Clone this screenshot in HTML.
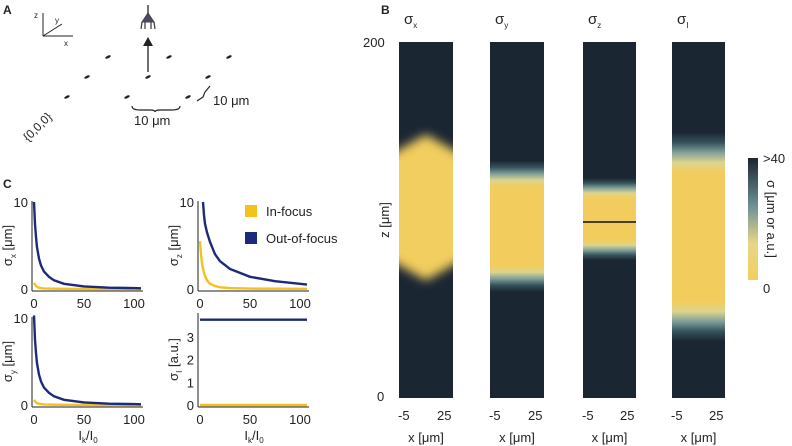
<!DOCTYPE html>
<html><head><meta charset="utf-8"><style>
body{margin:0;background:#fff;}
svg{display:block;font-family:"Liberation Sans",sans-serif;}
text{fill:#222;}
</style></head><body>
<svg id="fig" width="792" height="446" viewBox="0 0 792 446">
<defs id="defs">
  <filter id="blur1" x="-50%" y="-50%" width="200%" height="200%"><feGaussianBlur stdDeviation="5"/></filter>
  <linearGradient id="cbar" x1="0" y1="1" x2="0" y2="0">
    <stop offset="0" stop-color="#f4ce5b"/><stop offset="0.3" stop-color="#e8d688"/>
    <stop offset="0.6" stop-color="#6f9296"/><stop offset="1" stop-color="#1b2633"/>
  </linearGradient>
  <clipPath id="c1"><rect x="399" y="42" width="54" height="356"/></clipPath>
  <clipPath id="c2"><rect x="490" y="42" width="54" height="356"/></clipPath>
  <clipPath id="c3"><rect x="583" y="42" width="53" height="356"/></clipPath>
  <clipPath id="c4"><rect x="672" y="42" width="53" height="356"/></clipPath>
</defs>

<!-- Panel A -->
<g>
  <text x="3" y="14" font-size="12" font-weight="bold">A</text>
  <g stroke="#222" stroke-width="1" fill="none">
    <line x1="43" y1="36" x2="43" y2="13"/><line x1="43" y1="36" x2="73" y2="36"/><line x1="43" y1="36" x2="62" y2="24"/>
  </g>
  <text x="34" y="18" font-size="8">z</text><text x="55" y="23" font-size="8">y</text><text x="64" y="46" font-size="8">x</text>
  <g fill="#444" stroke="#444">
    <line x1="148" y1="5" x2="148" y2="14" stroke-width="1.5"/>
    <path d="M142,22 L148,13 L154,22 Z" fill="#4a4a6a"/>
    <path d="M142,22 L141,29 M145,22 L145,29 M151,22 L151,29 M154,22 L155,29" fill="none" stroke-width="1.3"/>
  </g>
  <line x1="148" y1="72" x2="148" y2="44" stroke="#222" stroke-width="1.3"/>
  <path d="M143,46 L148,37 L153,46 Z" fill="#222"/>
  <g id="dots"></g>
  <path d="M132,106 Q132,110 140,110 L150,110 Q155,110 155,112 Q155,110 160,110 L172,110 Q180,110 180,106" fill="none" stroke="#222" stroke-width="1.2"/>
  <text x="134" y="125" font-size="13">10 μm</text>
  <path d="M197,101 L203,97 L205,92 L210,86" fill="none" stroke="#222" stroke-width="1.2"/>
  <text x="213" y="105" font-size="13">10 μm</text>
  <text x="0" y="0" font-size="12" transform="translate(28,142) rotate(-45)">{0,0,0}</text>
</g>

<!-- Panel B -->
<g>
  <text x="381" y="14" font-size="12" font-weight="bold">B</text>
  <text x="363" y="47" font-size="13">200</text>
  <text x="377" y="401" font-size="13">0</text>
  <text transform="translate(389,220) rotate(-90)" font-size="13" text-anchor="middle">z [μm]</text>
  <g id="cols"></g>
  <rect x="748" y="158" width="10" height="122" fill="url(#cbar)"/>
  <text x="763" y="163" font-size="13">&gt;40</text>
  <text x="763" y="293" font-size="13">0</text>
  <text transform="translate(767,219) rotate(90)" font-size="13" text-anchor="middle">σ [μm or a.u.]</text>
</g>

<!-- Panel C -->
<g>
  <text x="3" y="188" font-size="12" font-weight="bold">C</text>
  <g id="plots"></g>
  <rect x="245" y="205" width="12" height="12" fill="#f5c21b"/>
  <text x="266" y="216" font-size="13">In-focus</text>
  <rect x="245" y="232" width="12" height="12" fill="#1b2a7a"/>
  <text x="266" y="243" font-size="13">Out-of-focus</text>
</g>
</svg>
<script>
const NS='http://www.w3.org/2000/svg';
function mk(tag,attrs,parent){const e=document.createElementNS(NS,tag);for(const k in attrs)e.setAttribute(k,attrs[k]);parent.appendChild(e);return e;}

// Panel A dots
const dotX=[108,169,229,87,148,208,67,127,188];
const dotY=[57,57,57,77,77,77,97,97,97];
const dg=document.getElementById('dots');
dotX.forEach((x,i)=>{const e=mk('ellipse',{cx:x,cy:dotY[i],rx:3,ry:1.3,fill:'#222',transform:`rotate(-25 ${x} ${dotY[i]})`},dg);

});

// Panel B heatmap columns
const colSub=['x','y','z','I'];
const colLeft=[399,490,583,672];
const colW=[54,54,53,53];
// band extents in z (0..200) (mid-transition points)
const bandTop=[148,126,118,138];
const bandBot=[66,67,83,43];
const bandSoft=[8,13,10,20];
const zTop=42,zBot=398;
const zs=v=>zBot-(v/200)*(zBot-zTop);
const cg=document.getElementById('cols');
const defs=document.getElementById('defs');
const ramp=[['#1b2633',0],['#35525b',0.25],['#7f9f98',0.5],['#dcd48e',0.75],['#f2cd5e',1]];
colSub.forEach((n,i)=>{
  const g=mk('g',{'clip-path':`url(#c${i+1})`},cg);
  
  
  const x=colLeft[i],w=colW[i];
  const t=zs(bandTop[i]),b=zs(bandBot[i]),s=bandSoft[i];
  if(i===0){
    mk('rect',{x:x,y:zTop,width:w,height:zBot-zTop,fill:'#1b2633'},g);
    mk('polygon',{points:`${x+w/2},${t} ${x+w+12},${t+22} ${x+w+12},${b-22} ${x+w/2},${b} ${x-12},${b-22} ${x-12},${t+22}`,fill:'#f2cd5e',filter:'url(#blur1)'},g);
  } else {
    const gr=mk('linearGradient',{id:'bg'+i,gradientUnits:'userSpaceOnUse',x1:0,y1:zTop,x2:0,y2:zBot},defs);
    const H=zBot-zTop;
    const stops=[];
    ramp.forEach(([c,f])=>stops.push([(t-s+2*s*f-zTop)/H,c]));
    ramp.slice().reverse().forEach(([c,f])=>stops.push([(b-s+2*s*(1-f)-zTop)/H,c]));
    mk('stop',{offset:0,'stop-color':'#1b2633'},gr);
    stops.forEach(([o,c])=>mk('stop',{offset:Math.max(0,Math.min(1,o)).toFixed(4),'stop-color':c},gr));
    mk('stop',{offset:1,'stop-color':'#1b2633'},gr);
    mk('rect',{x:x,y:zTop,width:w,height:zBot-zTop,fill:`url(#bg${i})`},g);
  }
  if(i===2){const m=zs(100);mk('line',{x1:x,y1:m+2,x2:x+w,y2:m+2,stroke:'#111',"stroke-width":1.5},g);}
  const tt=mk('text',{x:x+5,y:24,'font-size':15},cg);tt.textContent='σ';
  
  
  const sp=mk('tspan',{'font-size':8,dy:4},tt);sp.textContent=n;
  const l1=mk('text',{x:x-1,y:420,'font-size':13},cg);l1.textContent='-5';
  
  
  const l2=mk('text',{x:x+w-16,y:420,'font-size':13},cg);l2.textContent='25';
  
  
  const l3=mk('text',{x:x+w/2,y:442,'font-size':13,'text-anchor':'middle'},cg);l3.textContent='x [μm]';
  
  
});

// Panel C data
const xVals=[0,1,2,3,5,7,10,15,20,30,50,75,100,107];
const sxOut=[10,7.5,6,4.8,3.5,2.7,2,1.4,1,0.6,0.3,0.15,0.1,0.08];
const sxIn=[0.7,0.5,0.35,0.25,0.15,0.1,0.07,0.05,0.03,0.02,0.01,0,0,0];
const syOut=[10.3,7.5,6,4.8,3.5,2.7,2,1.4,1,0.6,0.3,0.15,0.1,0.08];
const syIn=[0.6,0.45,0.3,0.22,0.15,0.1,0.07,0.05,0.03,0.02,0.01,0,0,0];
const szX=[3,4,5,7,10,15,20,30,50,75,100,107];
const szOut=[10,8.5,7.5,6.5,5.4,4,3.2,2.3,1.4,0.9,0.6,0.5];
const szIn=[5.5,4,3,2.3,1.5,1,0.6,0.35,0.2,0.1,0.05,0.03,0.02,0.02];
const siOut=[3.75,3.75];
const siIn=[0,0];
const siX=[0,107];
const yTicksTop=['10','0'];
const yTicksI=['3','2','1','0'];
const xTicks=[0,50,100];

const pg=document.getElementById('plots');
function plot(ox,oyTop,oyBot,ymax,sub,unit,series,ticks,tickVals,showXlabel,nm){
  const g=mk('g',{},pg);
  
  
  const xs=v=>ox+2+v*1.0, ys=v=>oyBot-(v/ymax)*(oyBot-oyTop);
  series.forEach(s=>{
    const d=s.x.map((v,i)=>(i?'L':'M')+xs(v).toFixed(1)+','+ys(s.y[i]).toFixed(1)).join(' ');
    const p=mk('path',{d:d,fill:'none',stroke:s.c,'stroke-width':2.4},g);
    
    
  });
  mk('line',{x1:ox,y1:oyTop-1,x2:ox,y2:oyBot+2,stroke:'#222','stroke-width':1},g);
  mk('line',{x1:ox,y1:oyBot+2,x2:ox+111,y2:oyBot+2,stroke:'#222','stroke-width':1},g);
  ticks.forEach((t,i)=>{const e=mk('text',{x:ox-4,y:ys(tickVals[i])+5,'font-size':13,'text-anchor':'end'},g);e.textContent=t;
    
    });
  xTicks.forEach(t=>{const e=mk('text',{x:xs(t),y:oyBot+19,'font-size':13,'text-anchor':'middle'},g);e.textContent=t;
    
    });
  const yl=mk('text',{transform:`translate(${ox-20},${(oyTop+oyBot)/2}) rotate(-90)`,'font-size':13,'text-anchor':'middle'},g);
  
  
  yl.appendChild(document.createTextNode('σ'));
  const ts=mk('tspan',{'font-size':8,dy:4},yl);ts.textContent=sub;
  const ts2=mk('tspan',{dy:-4},yl);ts2.textContent=' '+unit;
  if(showXlabel){const xl=mk('text',{x:ox+56,y:440,'font-size':13,'text-anchor':'middle'},g);
    
    
    xl.appendChild(document.createTextNode('I'));
    const a=mk('tspan',{'font-size':8,dy:3},xl);a.textContent='k';
    const b=mk('tspan',{dy:-3},xl);b.textContent='/I';
    const c=mk('tspan',{'font-size':8,dy:3},xl);c.textContent='0';}
}
const Y='#f5c21b',B='#1b2a7a';
plot(32,202,289,10,'x','[μm]',[{x:xVals,y:sxIn,c:Y,n:'in-focus-line'},{x:xVals,y:sxOut,c:B,n:'out-of-focus-line'}],yTicksTop,[10,0],false,'plot-sigma-x');
plot(198,202,289,10,'z','[μm]',[{x:xVals,y:szIn,c:Y,n:'in-focus-line'},{x:szX,y:szOut,c:B,n:'out-of-focus-line'}],yTicksTop,[10,0],false,'plot-sigma-z');
plot(32,318,405,10,'y','[μm]',[{x:xVals,y:syIn,c:Y,n:'in-focus-line'},{x:xVals,y:syOut,c:B,n:'out-of-focus-line'}],yTicksTop,[10,0],true,'plot-sigma-y');
plot(198,314,405,4,'I','[a.u.]',[{x:siX,y:siIn,c:Y,n:'in-focus-line'},{x:siX,y:siOut,c:B,n:'out-of-focus-line'}],yTicksI,[3,2,1,0],true,'plot-sigma-i');
</script>
</body></html>
